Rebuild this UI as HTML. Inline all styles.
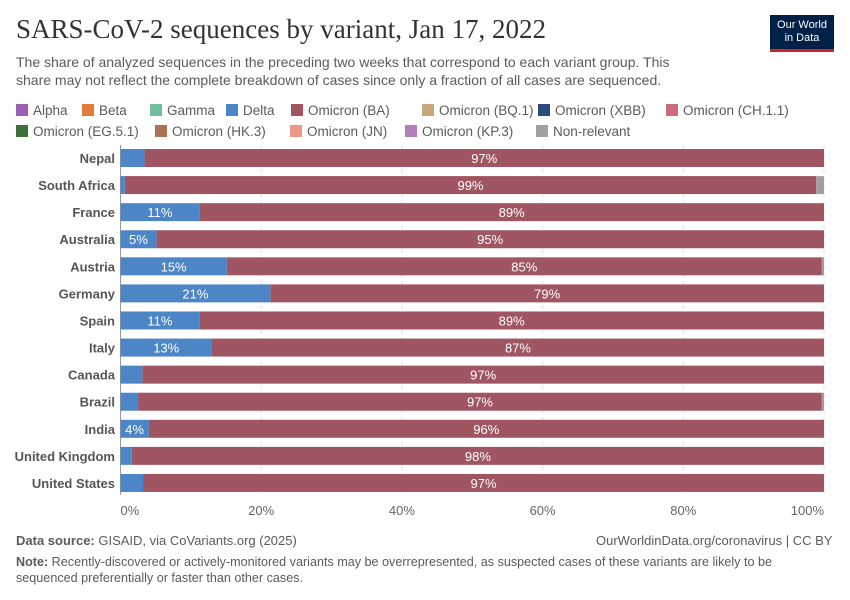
<!DOCTYPE html>
<html><head><meta charset="utf-8">
<style>
body{margin:0;background:#fff;font-family:"Liberation Sans",sans-serif;}
#wrap{position:relative;width:850px;height:600px;overflow:hidden;}
.t{position:absolute;white-space:nowrap;}
</style></head>
<body><div id="wrap">
<div class="t" style="left:16px;top:14px;font-family:'Liberation Serif',serif;font-size:27px;color:#333;">SARS-CoV-2 sequences by variant, Jan 17, 2022</div>
<div class="t" style="left:16px;top:53px;font-size:14px;line-height:18px;color:#5b5b5b;">The share of analyzed sequences in the preceding two weeks that correspond to each variant group. This<br>share may not reflect the complete breakdown of cases since only a fraction of all cases are sequenced.</div>
<div style="position:absolute;left:770px;top:15px;width:64px;height:37px;background:#002147;border-bottom:3px solid #ce261e;color:#fff;font-size:11px;line-height:13px;text-align:center;padding-top:4px;box-sizing:border-box;">Our World<br>in Data</div>
<svg id="svg" width="850" height="600" style="position:absolute;left:0;top:0"></svg>
<div class="t" style="left:16px;top:533px;font-size:13px;color:#5b5b5b;"><b>Data source:</b> GISAID, via CoVariants.org (2025)</div>
<div class="t" style="left:596px;top:533px;font-size:13px;color:#5b5b5b;">OurWorldinData.org/coronavirus | CC BY</div>
<div class="t" style="left:16px;top:554px;font-size:12.6px;line-height:16px;color:#5b5b5b;"><b>Note:</b> Recently-discovered or actively-monitored variants may be overrepresented, as suspected cases of these variants are likely to be<br>sequenced preferentially or faster than other cases.</div>
</div>
<script>
const countries=["Nepal","South Africa","France","Australia","Austria","Germany","Spain","Italy","Canada","Brazil","India","United Kingdom","United States"];
const delta=[3.4,0.6,11.2,5.1,15.1,21.3,11.2,13.0,3.1,2.5,4.0,1.6,3.2];
const nonRelevant=[0,1.1,0,0,0.3,0,0,0,0,0.3,0,0,0];
const omicronLabels=["97%","99%","89%","95%","85%","79%","89%","87%","97%","97%","96%","98%","97%"];
const deltaLabels=["","","11%","5%","15%","21%","11%","13%","","","4%","",""];
const ticks=[0,20,40,60,80,100];
const legendNames=["Alpha","Beta","Gamma","Delta","Omicron (BA)","Omicron (BQ.1)","Omicron (XBB)","Omicron (CH.1.1)","Omicron (EG.5.1)","Omicron (HK.3)","Omicron (JN)","Omicron (KP.3)","Non-relevant"];
const legendColors=["#9a5fb0","#e07b39","#6fbf9f","#4c86c6","#a05662","#c8a77e","#2c4b7a","#cf6b7e","#3f6f3a","#a87353","#ee9686","#b47cba","#a0a0a0"];
const svg=document.getElementById('svg');const NS='http://www.w3.org/2000/svg';
const x=v=>120.5+v*7.035;const y=i=>158+i*27.08;
function mk(t,a,p){const e=document.createElementNS(NS,t);for(const k in a)e.setAttribute(k,a[k]);(p||svg).appendChild(e);return e;}
const lx=[16,82,150,226,291,422,538,666,16,155,290,405,536];
const lrow=[0,0,0,0,0,0,0,0,1,1,1,1,1];
legendNames.forEach((n,i)=>{
 const g=mk('g',{});
 
 
 mk('rect',{x:lx[i],y:104+lrow[i]*21,width:12,height:12,fill:legendColors[i]},g);
 const t=mk('text',{x:lx[i]+17,y:115+lrow[i]*21,'font-size':13.5,fill:'#5b5b5b'},g);t.textContent=n;
});
ticks.forEach(v=>{
 const l=mk('line',{x1:x(v),x2:x(v),y1:145,y2:495,stroke:'#ddd','stroke-dasharray':'4,4'});
 
 
 const t=mk('text',{x:x(v),y:515,'font-size':13,fill:'#666','text-anchor':v==0?'start':(v==100?'end':'middle')});
 
 
 t.textContent=v+'%';
});
mk('line',{x1:120.5,x2:120.5,y1:145,y2:495,stroke:'#999'});
countries.forEach((c,i)=>{
 const cy=y(i),h=18,top=cy-9;
 const om=100-delta[i]-nonRelevant[i];
 const lab=mk('text',{x:115,y:cy+5,'font-size':13,'font-weight':'bold',fill:'#555','text-anchor':'end'});
 
 
 lab.textContent=c;
 const d=mk('rect',{x:x(0),y:top,width:x(delta[i])-x(0),height:h,fill:'#4c86c6'});
 
 
 const o=mk('rect',{x:x(delta[i]),y:top,width:x(delta[i]+om)-x(delta[i]),height:h,fill:'#a05662'});
 
 
 if(nonRelevant[i]>0){
  const n=mk('rect',{x:x(delta[i]+om),y:top,width:x(100)-x(delta[i]+om),height:h,fill:'#a0a0a0'});
  
  
 }
 if(deltaLabels[i]){const t=mk('text',{x:(x(0)+x(delta[i]))/2,y:cy+5,'font-size':13,fill:'#fff','text-anchor':'middle'});
  
  
  t.textContent=deltaLabels[i];}
 const t2=mk('text',{x:(x(delta[i])+x(delta[i]+om))/2,y:cy+5,'font-size':13,fill:'#fff','text-anchor':'middle'});
 
 
 t2.textContent=omicronLabels[i];
});
</script>
</body></html>
